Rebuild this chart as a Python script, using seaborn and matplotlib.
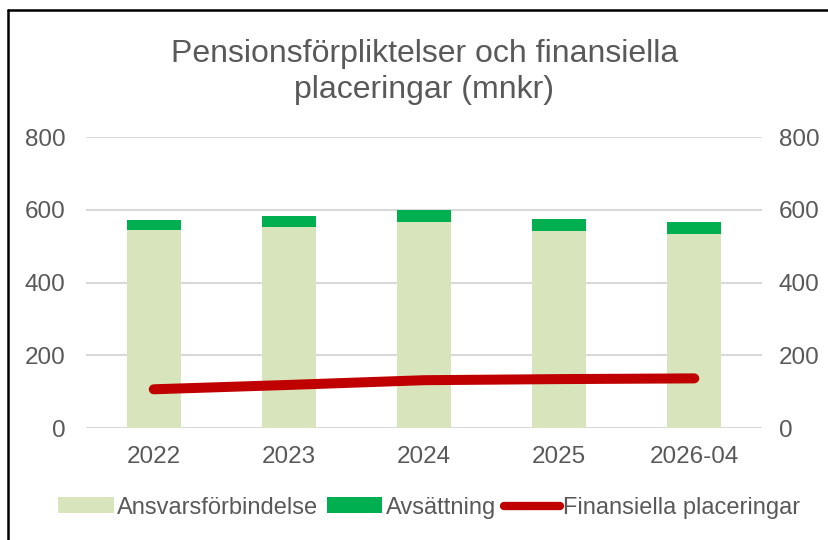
import matplotlib
matplotlib.use("Agg")
import matplotlib.pyplot as plt
import numpy as np
import pandas as pd
import seaborn as sns
from matplotlib.patches import Patch
from matplotlib.lines import Line2D

sns.set_theme(style="white")
plt.rcParams["font.family"] = ["Liberation Sans", "DejaVu Sans"]

# data (mnkr)
years = ["2022", "2023", "2024", "2025", "2026-04"]
ansvar = [544, 553, 566, 542, 533]
avsattning = [27, 29, 35, 34, 34]
finansiella = [107, 119, 132, 135, 137]

df = pd.DataFrame({
    "year": years,
    "ansvar": ansvar,
    "avsattning": avsattning,
    "total": np.array(ansvar) + np.array(avsattning),
    "finans": finansiella,
})

c_light = "#D8E4BC"
c_green = "#00B050"
c_red = "#C00000"
c_text = "#595959"
c_grid = "#D9D9D9"

fig = plt.figure(figsize=(8.29, 5.4), dpi=100)
ax = fig.add_axes([0.104, 0.207, 0.815, 0.539])

sns.barplot(data=df, x="year", y="total", color=c_green, saturation=1,
            width=0.4, ax=ax, zorder=2, linewidth=0, edgecolor="none")
sns.barplot(data=df, x="year", y="ansvar", color=c_light, saturation=1,
            width=0.4, ax=ax, zorder=3, linewidth=0, edgecolor="none")

ax2 = ax.twinx()
sns.pointplot(data=df, x="year", y="finans", color=c_red, markers="",
              linewidth=7.2, ax=ax2)
for ln in ax2.lines:
    ln.set_solid_capstyle("round")
    ln.set_solid_joinstyle("round")

for a in (ax, ax2):
    a.set_ylim(0, 800)
    a.set_yticks([0, 200, 400, 600, 800])
    a.set_xlabel("")
    a.set_ylabel("")
    for s in a.spines.values():
        s.set_visible(False)
    a.tick_params(length=0, labelsize=17.5, labelcolor=c_text)

ax.set_xlim(-0.5, 4.5)
ax.tick_params(axis="y", pad=15)
ax.tick_params(axis="x", pad=13)
ax2.tick_params(axis="y", pad=12)
ax.yaxis.grid(True, color=c_grid, linewidth=1.5)
ax.set_axisbelow(True)

fig.text(0.512, 0.867, "Pensionsförpliktelser och finansiella\nplaceringar (mnkr)",
         ha="center", va="center", fontsize=23, color=c_text, linespacing=1.27)

handles = [
    Patch(facecolor=c_light, edgecolor="none"),
    Patch(facecolor=c_green, edgecolor="none"),
    Line2D([0], [0], color=c_red, linewidth=6, solid_capstyle="round"),
]
labels = ["Ansvarsförbindelse", "Avsättning", "Finansiella placeringar"]
fig.legend(handles, labels, loc="center", bbox_to_anchor=(0.518, 0.06), ncol=3,
           frameon=False, fontsize=17, labelcolor=c_text, handlelength=2.35,
           handleheight=0.65, handletextpad=0.15, columnspacing=0.35)

# chart frame (only left and top edges visible in the crop)
fig.add_artist(Line2D([8 / 829, 8 / 829], [0, 1 - 9.5 / 540], color="black",
                      linewidth=1.8, transform=fig.transFigure))
fig.add_artist(Line2D([8 / 829, 1], [1 - 9.5 / 540, 1 - 9.5 / 540], color="black",
                      linewidth=1.8, transform=fig.transFigure))

fig.savefig("out.png", dpi=100)
